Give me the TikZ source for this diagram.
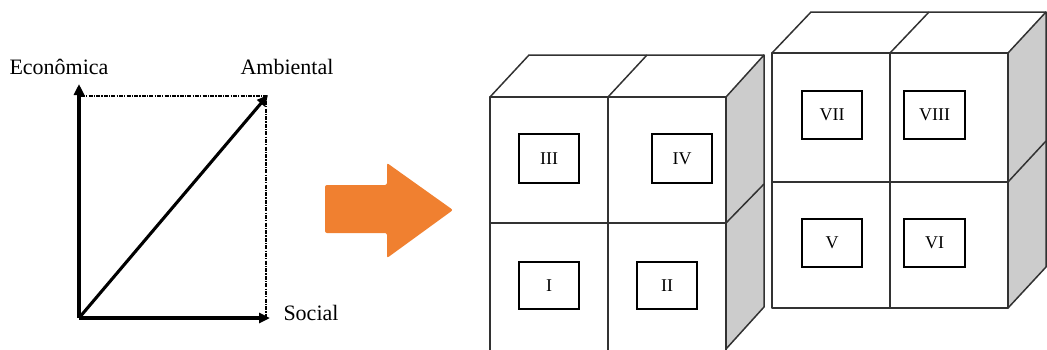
\documentclass[tikz,border=0pt]{standalone}
\usepackage{fontspec}
\setmainfont{Liberation Serif}
\usetikzlibrary{arrows.meta}
\definecolor{arrorange}{RGB}{240,128,48}
\definecolor{facegray}{RGB}{204,204,204}
\definecolor{edgecol}{RGB}{50,50,50}
\tikzset{
  axis/.style={line width=3.1pt,-{Triangle[length=11pt,width=10pt]}},
  guide/.style={line width=1.2pt,dash pattern=on 4pt off 1.2pt on 1.2pt off 1.2pt},
  lbl/.style={font=\fontsize{22}{24}\selectfont,inner sep=0pt},
  edge/.style={draw=edgecol,line width=1.5pt,line join=round},
  inner/.style={draw=black,line width=1.2pt,line join=miter},
  numlbl/.style={font=\fontsize{18}{20}\selectfont,inner sep=0pt}
}
\begin{document}
\begin{tikzpicture}[x=1pt,y=-1pt]
\useasboundingbox (0,0) rectangle (1047,349);
\clip (0,0) rectangle (1047,349);
% left vector diagram
\coordinate (O) at (79,318);
\coordinate (E) at (79,84);
\coordinate (S) at (270,318);
\coordinate (A) at (268,95);
\coordinate (TR) at (266,96);
\coordinate (BR) at (266,318);
\coordinate (TL) at (81,96);
\draw[guide] (TL) -- (TR) -- (BR);
\draw[axis] (O) -- (E);
\draw[axis] (O) -- (S);
\draw[axis] (O) -- (A);
\node[lbl] (econ) at (59,67) {Econômica};
\node[lbl] (amb) at (287,67) {Ambiental};
\node[lbl] (soc) at (311,313) {Social};
% orange arrow
\fill[arrorange,rounded corners=2pt] (325,185) -- (387,185) -- (387,163) -- (453,210) -- (387,258) -- (387,233) -- (325,233) -- cycle;
% cube 1
\filldraw[edge,fill=facegray] (726,97) -- (764,55) -- (764,307) -- (726,349) -- cycle;
\draw[edge] (726,223) -- (764,184);
\draw[edge] (490,97) -- (529,55) -- (764,55);
\draw[edge] (608,97) -- (647,55);
\draw[edge] (490,352) -- (490,97) -- (726,97) -- (726,352);
\draw[edge] (490,223) -- (726,223);
\draw[edge] (608,97) -- (608,352);
\node[inner,minimum width=60pt,minimum height=49pt] (b3) at (549,158.5) {};
\node[numlbl] at (b3) {III};
\node[inner,minimum width=60pt,minimum height=49pt] (b4) at (682,158.5) {};
\node[numlbl] at (b4) {IV};
\node[inner,minimum width=60pt,minimum height=47pt] (b1) at (549,285.5) {};
\node[numlbl] at (b1) {I};
\node[inner,minimum width=60pt,minimum height=47pt] (b2) at (667,285.5) {};
\node[numlbl] at (b2) {II};
% cube 2
\filldraw[edge,fill=facegray] (1008,53) -- (1046,12) -- (1046,267) -- (1008,308) -- cycle;
\draw[edge] (1008,182) -- (1046,141);
\draw[edge] (772,53) -- (811,12) -- (1046,12);
\draw[edge] (890,53) -- (929,12);
\draw[edge] (772,53) rectangle (1008,308);
\draw[edge] (772,182) -- (1008,182);
\draw[edge] (890,53) -- (890,308);
\node[inner,minimum width=60pt,minimum height=48pt] (b7) at (832,115) {};
\node[numlbl] at (b7) {VII};
\node[inner,minimum width=61pt,minimum height=48pt] (b8) at (934.5,115) {};
\node[numlbl] at (b8) {VIII};
\node[inner,minimum width=60pt,minimum height=48pt] (b5) at (832,243) {};
\node[numlbl] at (b5) {V};
\node[inner,minimum width=61pt,minimum height=48pt] (b6) at (934.5,243) {};
\node[numlbl] at (b6) {VI};
\end{tikzpicture}
\end{document}
